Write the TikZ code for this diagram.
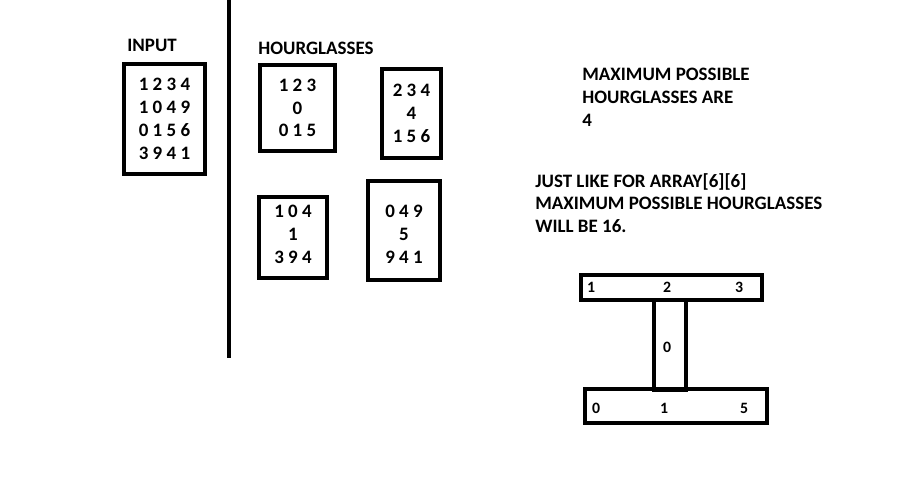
\documentclass[tikz,border=0pt]{standalone}
\usepackage{fontspec}
\setmainfont{Carlito}
\begin{document}
\begin{tikzpicture}[
    x=0.02cm, y=-0.02cm,
    every node/.style={font=\bfseries\fontsize{10.8}{13}\selectfont, inner sep=0pt},
    gridbox/.style={draw, line width=2.3pt, align=center},
    note/.style={align=left, anchor=west},
    bar/.style={draw, line width=2.3pt, fill=white},
    cell/.style={font=\bfseries\fontsize{9}{10}\selectfont}
]
\useasboundingbox (0,0) rectangle (906,480);
% divider
\coordinate (divtop) at (229,0);
\coordinate (divbot) at (229,358);
\draw[line width=2.5pt] (divtop) -- (divbot);

\node[anchor=west] (inputlbl) at (127,45) {INPUT};
\node[anchor=west] (hglbl) at (258,48) {HOURGLASSES};

\node[gridbox, minimum width=1.62cm, minimum height=2.2cm] (input) at (164.5,119)
    {1 2 3 4\\1 0 4 9\\0 1 5 6\\3 9 4 1};
\node[gridbox, minimum width=1.5cm, minimum height=1.72cm] (hg1) at (297.5,108)
    {1 2 3\\0\\0 1 5};
\node[gridbox, minimum width=1.18cm, minimum height=1.78cm] (hg2) at (411.5,113.5)
    {2 3 4\\4\\1 5 6};
\node[gridbox, minimum width=1.36cm, minimum height=1.62cm, text depth=0.12cm] (hg3) at (293,237.5)
    {1 0 4\\1\\3 9 4};
\node[gridbox, minimum width=1.44cm, minimum height=1.98cm, text height=1.31cm] (hg4) at (404,230.5)
    {0 4 9\\5\\9 4 1};

\node[note] (maxnote) at (582,97.5) {MAXIMUM POSSIBLE\\HOURGLASSES ARE\\4};
\node[note] (sixnote) at (535,203) {JUST LIKE FOR ARRAY[6][6]\\MAXIMUM POSSIBLE HOURGLASSES\\WILL BE 16.};

% hourglass shape
\node[bar, minimum width=3.62cm, minimum height=0.5cm] (topbar) at (671.5,287.5) {};
\node[bar, minimum width=3.64cm, minimum height=0.68cm] (botbar) at (676,406) {};
\node[draw, line width=2.3pt, minimum width=0.64cm, minimum height=1.8cm] (stem) at (670,345) {};
\node[cell] (t1) at (591,287) {1};
\node[cell] (t2) at (667,287) {2};
\node[cell] (t3) at (739,287) {3};
\node[cell] (m0) at (667,347) {0};
\node[cell] (b0) at (596,408) {0};
\node[cell] (b1) at (664,408) {1};
\node[cell] (b5) at (744,408) {5};
\end{tikzpicture}
\end{document}
